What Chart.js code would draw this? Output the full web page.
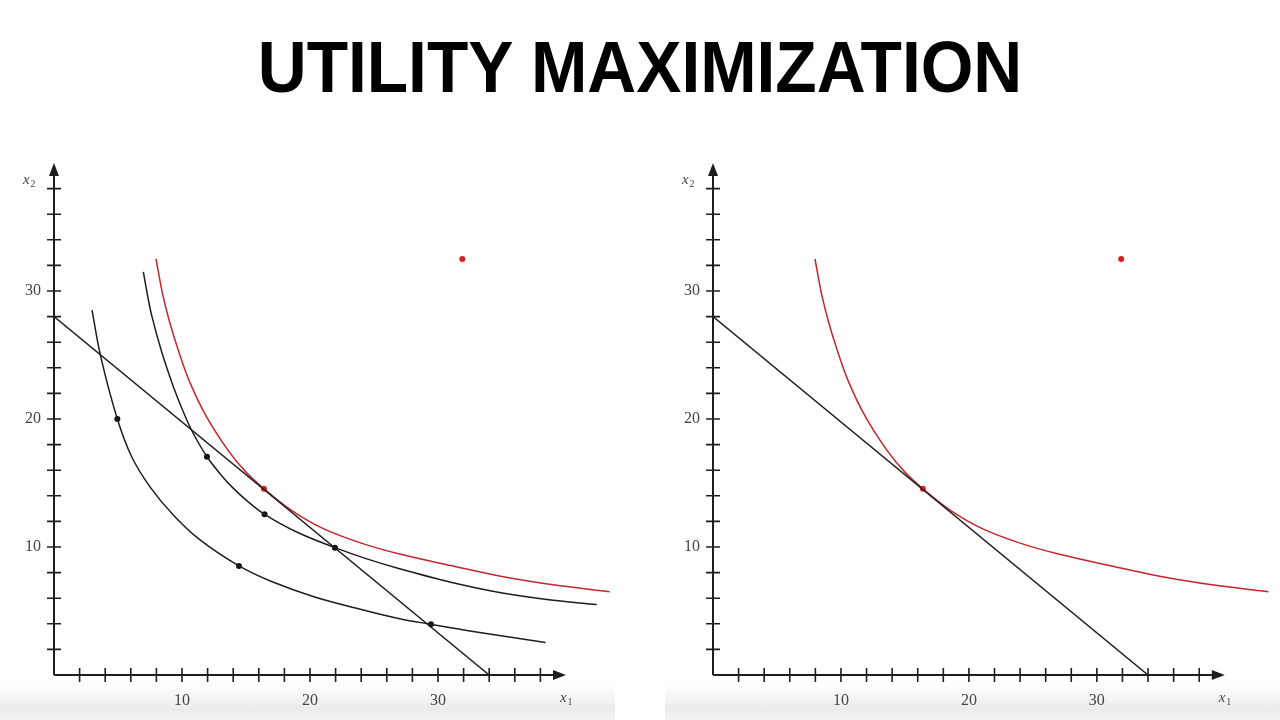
<!DOCTYPE html>
<html>
<head>
<meta charset="utf-8">
<script src="https://cdn.jsdelivr.net/npm/chart.js@4.4.1/dist/chart.umd.min.js"></script>
<style>
  html, body { margin:0; padding:0; background:#fff; width:1280px; height:720px; overflow:hidden; }
  #title { position:absolute; left:0; top:31px; width:1280px; text-align:center;
    font-family:'Liberation Sans', Arial, sans-serif; font-weight:700; font-size:72px; line-height:72px;
    color:#000; transform:scaleX(0.94); transform-origin:640px 0; }
  .band { position:absolute; top:684px; height:36px;
    background:linear-gradient(to bottom, rgba(236,236,236,0) 0%, #ebebeb 70%, #f3f3f3 100%); }
  .wrap { position:absolute; top:140px; height:580px; }
  canvas { display:block; }
</style>
</head>
<body>
<div class="band" style="left:0;width:615px"></div>
<div class="band" style="left:665px;width:615px"></div>
<div id="title">UTILITY MAXIMIZATION</div>
<div class="wrap" style="left:0;width:640px"><canvas id="left" width="640" height="580"></canvas></div>
<div class="wrap" style="left:659px;width:621px"><canvas id="right" width="621" height="580"></canvas></div>
<script>
/* ---- data (x1, x2) ---- */
const budgetX = [0, 34];
const budgetY = [28, 0];

const curveAX = [2.97, 3.65, 4.95, 6.07, 7.5, 9.32, 11.41, 14.45, 17.0, 20.3, 24.0, 27.0, 29.45, 33.0, 38.4];
const curveAY = [28.5, 24.87, 20.0, 17.05, 14.7, 12.5, 10.55, 8.52, 7.3, 6.12, 5.12, 4.4, 3.96, 3.36, 2.53];

const curveBX = [6.98, 7.3, 7.63, 8.4, 9.3, 10.0, 10.76, 11.95, 13.2, 14.0, 15.2, 16.45, 19.0, 21.95, 24.5, 27.0, 31.0, 34.8, 38.5, 42.4];
const curveBY = [31.5, 29.7, 28.1, 25.3, 22.6, 20.8, 19.1, 17.05, 15.45, 14.6, 13.5, 12.55, 11.15, 9.95, 9.05, 8.3, 7.25, 6.45, 5.9, 5.5];

const redX = [7.97, 8.5, 9.0, 9.7, 10.6, 11.9, 13.6, 15.0, 16.4, 18.5, 21.0, 24.0, 27.0, 31.0, 35.0, 39.0, 43.4];
const redY = [32.5, 29.7, 27.7, 25.4, 22.9, 20.2, 17.55, 15.85, 14.55, 12.9, 11.45, 10.3, 9.45, 8.55, 7.7, 7.05, 6.5];

const blackDotsX = [4.95, 11.95, 14.45, 16.45, 21.95, 29.45];
const blackDotsY = [20.0, 17.05, 8.52, 12.55, 9.95, 3.96];

const redDotsX = [16.4, 31.9];
const redDotsY = [14.55, 32.5];

const minorTicks = [2,4,6,8,10,12,14,16,18,20,22,24,26,28,30,32,34,36,38];
const labelTicks = [10, 20, 30];
const axisEnd = 40;

const pts = (xs, ys) => xs.map((x, i) => ({ x, y: ys[i] }));
const INK = '#1e1e1e', RED = '#c4262b', RED_DOT = '#d81e1e';

/* axes with arrows + ticks crossing the line, drawn from the chart scales */
const axesPlugin = {
  id: 'arrowAxes',
  beforeDatasetsDraw(chart) {
    const { ctx, scales: { x, y } } = chart;
    const x0 = x.getPixelForValue(0), y0 = y.getPixelForValue(0);
    const xe = x.getPixelForValue(axisEnd), ye = y.getPixelForValue(axisEnd);
    ctx.save();
    ctx.strokeStyle = INK; ctx.fillStyle = INK; ctx.lineWidth = 2;
    ctx.beginPath(); ctx.moveTo(x0, y0); ctx.lineTo(xe - 8, y0); ctx.moveTo(x0, y0); ctx.lineTo(x0, ye + 8); ctx.stroke();
    // arrow heads
    ctx.beginPath(); ctx.moveTo(xe, y0); ctx.lineTo(xe - 13, y0 - 5); ctx.lineTo(xe - 13, y0 + 5); ctx.closePath(); ctx.fill();
    ctx.beginPath(); ctx.moveTo(x0, ye); ctx.lineTo(x0 - 5, ye + 13); ctx.lineTo(x0 + 5, ye + 13); ctx.closePath(); ctx.fill();
    // crossing ticks
    ctx.lineWidth = 1.6;
    ctx.beginPath();
    minorTicks.forEach(v => {
      const px = x.getPixelForValue(v), py = y.getPixelForValue(v);
      ctx.moveTo(px, y0 - 7); ctx.lineTo(px, y0 + 7);
      ctx.moveTo(x0 - 7, py); ctx.lineTo(x0 + 7, py);
    });
    ctx.stroke();
    // axis names
    ctx.fillStyle = '#444';
    ctx.textBaseline = 'alphabetic';
    ctx.font = 'italic 15px "Liberation Serif", serif';
    ctx.fillText('x', x0 - 31, ye + 21);
    ctx.fillText('x', xe - 6, y0 + 27);
    ctx.font = '10px "Liberation Serif", serif';
    ctx.fillText('2', x0 - 23.5, ye + 24);
    ctx.fillText('1', xe + 1.5, y0 + 30);
    ctx.restore();
  }
};

function lineSet(xs, ys, color, smooth) {
  return { data: pts(xs, ys), showLine: true, borderColor: color, borderWidth: 1.5,
    pointRadius: 0, fill: false, tension: smooth ? 0.35 : 0 };
}
function dotSet(xs, ys, color) {
  return { data: pts(xs, ys), showLine: false, pointRadius: 3, pointBackgroundColor: color,
    pointBorderWidth: 0, borderColor: color };
}

function makeOptions(rightPad) {
  const tickFont = { family: '"Liberation Serif", serif', size: 16 };
  return {
    responsive: false, animation: false,
    layout: { padding: { top: 10.2, right: rightPad, bottom: 0, left: 0 } },
    plugins: { legend: { display: false }, tooltip: { enabled: false } },
    scales: {
      x: { type: 'linear', min: 0, max: 44,
        grid: { display: false, drawTicks: false }, border: { display: false },
        afterFit: s => { s.height = 45; s.paddingLeft = 0; s.paddingRight = 0; },
        ticks: { stepSize: 2, autoSkip: false, maxRotation: 0, padding: 16, color: '#444', font: tickFont,
          callback: v => labelTicks.includes(v) ? String(v) : '' } },
      y: { type: 'linear', min: 0, max: 41,
        grid: { display: false, drawTicks: false }, border: { display: false },
        afterFit: s => { s.width = 54; s.paddingTop = 0; s.paddingBottom = 0; },
        ticks: { stepSize: 2, autoSkip: false, padding: 13, color: '#444', font: tickFont,
          callback: v => labelTicks.includes(v) ? String(v) : '' } }
    }
  };
}

new Chart(document.getElementById('left'), {
  type: 'scatter',
  data: { datasets: [
    lineSet(budgetX, budgetY, INK, false),
    lineSet(curveAX, curveAY, INK, true),
    lineSet(curveBX, curveBY, INK, true),
    lineSet(redX, redY, RED, true),
    dotSet(blackDotsX, blackDotsY, '#111'),
    dotSet(redDotsX, redDotsY, RED_DOT)
  ] },
  options: makeOptions(22.8),
  plugins: [axesPlugin]
});

new Chart(document.getElementById('right'), {
  type: 'scatter',
  data: { datasets: [
    lineSet(budgetX, budgetY, INK, false),
    lineSet(redX, redY, RED, true),
    dotSet(redDotsX, redDotsY, RED_DOT)
  ] },
  options: makeOptions(3.8),
  plugins: [axesPlugin]
});
</script>
</body>
</html>
